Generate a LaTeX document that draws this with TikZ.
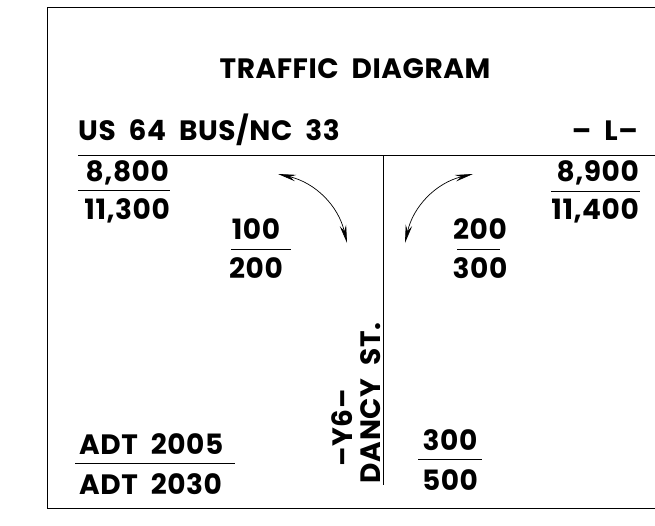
\documentclass[tikz,border=0pt]{standalone}
\usepackage{fontspec}
\newfontfamily\lblfont{Poppins}[LetterSpace=2]
\usetikzlibrary{arrows.meta}

\begin{document}
\begin{tikzpicture}[x=1pt,y=-1pt,
		lbl/.style={font=\fontsize{28}{30}\lblfont\bfseries, inner sep=0pt},
		turn/.style={{Stealth[length=18pt,width=6.5pt]}-{Stealth[length=18pt,width=6.5pt]}, line width=0.7pt}]
			\useasboundingbox (0,0) rectangle (655,525);
			\draw[line width=0.8pt] (655,7) -- (47,7) -- (47,508) -- (655,508);
			
			\node[lbl, anchor=base] (title) at (355,78) {TRAFFIC\ \ DIAGRAM};
			\node[lbl, anchor=base west] (route) at (78,140) {US\ \ 64\ \ BUS/NC\ \ 33};
			\node[lbl, anchor=base east] (lname) at (638,140) {–\ \ L–};
			
			\coordinate (w) at (78,155);
			\coordinate (e) at (655,155);
			\coordinate (n) at (383,155);
			\coordinate (s) at (383,485);
			\draw[line width=0.9pt] (w) -- (e);
			\draw[line width=0.9pt] (n) -- (s);
			
			\node[lbl, anchor=base east] (wa) at (169,181) {8,800};
			\node[lbl, anchor=base east] (wb) at (170,219) {11,300};
			\coordinate (wl) at (78,190);
			\coordinate (wr) at (170,190);
			\draw (wl) -- (wr);
			
			\node[lbl, anchor=base east] (ea) at (639,181) {8,900};
			\node[lbl, anchor=base east] (eb) at (639,219) {11,400};
			\coordinate (el) at (551,191);
			\coordinate (er) at (640,191);
			\draw (el) -- (er);
			
			\node[lbl, anchor=base] (la) at (256,239) {100};
			\node[lbl, anchor=base] (lb) at (256,278) {200};
			\coordinate (ll) at (231,249);
			\coordinate (lr) at (291,249);
			\draw (ll) -- (lr);
			
			\node[lbl, anchor=base] (ra) at (480,239) {200};
			\node[lbl, anchor=base] (rb) at (480,278) {300};
			\coordinate (rl) at (457,249);
			\coordinate (rr) at (500,249);
			\draw (rl) -- (rr);
			
			\node[lbl, anchor=base] (sa) at (450,450) {300};
			\node[lbl, anchor=base] (sb) at (450,490) {500};
			\coordinate (sl) at (418,459);
			\coordinate (sr) at (482,459);
			\draw (sl) -- (sr);
			
			\node[lbl, anchor=base west] (ka) at (79,454) {ADT\ \ 2005};
			\node[lbl, anchor=base west] (kb) at (79,494) {ADT\ \ 2030};
			\coordinate (kl) at (75,463);
			\coordinate (kr) at (235,463);
			\draw (kl) -- (kr);
			
			\node[lbl, rotate=90] (yname) at (342,428) {–Y6–};
			\node[lbl, rotate=90] (street) at (371,403) {DANCY\ \ ST.};
			
			\coordinate (l1) at (278,174);
			\coordinate (l2) at (347,243);
			\coordinate (r1) at (405,243);
			\coordinate (r2) at (473,174);
			\draw[turn] (l1) to[bend left=32] (l2);
			\draw[turn] (r1) to[bend left=32] (r2);
		\end{tikzpicture}
\end{document}
